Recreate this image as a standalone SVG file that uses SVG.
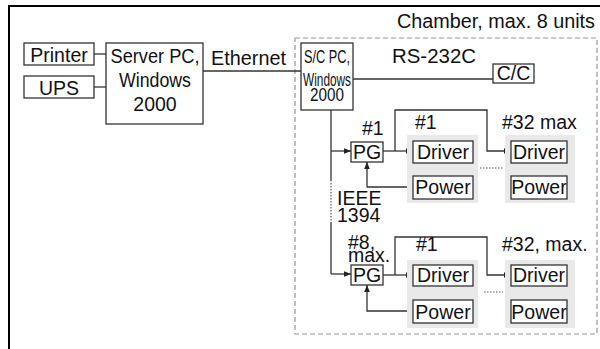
<svg xmlns="http://www.w3.org/2000/svg" width="600" height="349" viewBox="0 0 600 349">
  <defs>
    <marker id="arr" viewBox="0 0 8 8" refX="8" refY="4" markerWidth="7" markerHeight="7" markerUnits="userSpaceOnUse" orient="auto">
      <path d="M0,0.8 L8,4 L0,7.2 z" fill="#222"/>
    </marker>
    <style>
      text { font-family: "Liberation Sans", Arial, sans-serif; font-size: 19.5px; fill: #111; }
      .c { text-anchor: middle; }
      .sc { font-size: 19px; }
      .box { fill: #fff; stroke: #333; stroke-width: 1.3; }
      .shade { fill: #e9e9e9; stroke: none; }
      .ln { fill: none; stroke: #333; stroke-width: 1.3; }
      .ar { fill: none; stroke: #333; stroke-width: 1.3; marker-end: url(#arr); }
      .dot { fill: none; stroke: #555; stroke-width: 1.2; stroke-dasharray: 1.5 1.5; }
    </style>
  </defs>
  <rect width="600" height="349" fill="#fff"/>

  <!-- page frame -->
  <path d="M9,349 V6 H600" fill="none" stroke="#000" stroke-width="2"/>

  <!-- chamber enclosure -->
  <g id="chamber">
    <rect x="295" y="38" width="302" height="296" fill="none" stroke="#999" stroke-width="1.2" stroke-dasharray="5 3"/>
    <text x="595" y="28" text-anchor="end" textLength="198" lengthAdjust="spacingAndGlyphs">Chamber, max. 8 units</text>
  </g>

  <!-- connectors -->
  <g id="connectors">
    <path class="ln" d="M94,54 H106"/>
    <path class="ln" d="M94,87 H106"/>
    <path class="ln" d="M203,71 H301"/>
    <path class="ln" d="M353,79 H493"/>
    <!-- IEEE 1394 bus -->
    <path class="ln" d="M331,110 V180"/>
    <path class="dot" d="M331,180 V222"/>
    <path class="ln" d="M331,222 V274"/>
    <path class="ar" d="M331,151 H351"/>
    <path class="ar" d="M331,274 H351"/>
    <!-- unit #1 -->
    <path class="ar" d="M383,151 H413"/>
    <path class="ar" d="M395,151 V110 H487 V151 H511"/>
    <path class="ar" d="M413,187 H367 V162"/>
    <path class="ar" d="M441,176 V163"/>
    <path class="ar" d="M544,176 V163"/>
    <path class="dot" d="M480,168 H503"/>
    <!-- unit #8 -->
    <path class="ar" d="M383,275 H413"/>
    <path class="ar" d="M395,275 V237 H487 V275 H511"/>
    <path class="ar" d="M413,311 H367 V285"/>
    <path class="ar" d="M441,300 V286"/>
    <path class="ar" d="M544,300 V286"/>
    <path class="dot" d="M484,292 H503"/>
  </g>

  <g id="printer">
    <rect class="box" x="24" y="43" width="70" height="22"/>
    <text class="c" x="59" y="62">Printer</text>
  </g>
  <g id="ups">
    <rect class="box" x="24" y="76" width="70" height="22"/>
    <text class="c" x="59" y="95">UPS</text>
  </g>
  <g id="server-pc">
    <rect class="box" x="106" y="43" width="97" height="81"/>
    <text class="c" x="155" y="63" textLength="89" lengthAdjust="spacingAndGlyphs">Server PC,</text>
    <text class="c" x="155" y="87" textLength="72" lengthAdjust="spacingAndGlyphs">Windows</text>
    <text class="c" x="155" y="111">2000</text>
  </g>
  <text x="211" y="65" textLength="75" lengthAdjust="spacingAndGlyphs">Ethernet</text>

  <g id="sc-pc">
    <rect class="box" x="301" y="43" width="52" height="67"/>
    <text class="c sc" x="327" y="63" textLength="46" lengthAdjust="spacingAndGlyphs">S/C PC,</text>
    <text class="c sc" x="327" y="86" textLength="48" lengthAdjust="spacingAndGlyphs">Windows</text>
    <text class="c sc" x="327" y="101" textLength="34" lengthAdjust="spacingAndGlyphs">2000</text>
  </g>
  <text x="392" y="63" textLength="84" lengthAdjust="spacingAndGlyphs">RS-232C</text>
  <g id="cc">
    <rect class="box" x="493" y="64" width="41" height="19"/>
    <text class="c" x="513.5" y="80">C/C</text>
  </g>

  <text x="337" y="205">IEEE</text>
  <text x="337" y="222">1394</text>

  <!-- unit #1 -->
  <g id="pg1">
    <rect class="box" x="351" y="142" width="32" height="20"/>
    <text class="c" x="367" y="159">PG</text>
    <text x="362" y="135">#1</text>
  </g>
  <g id="drv1-1">
    <rect class="shade" x="407" y="135" width="71" height="68"/>
    <rect class="box" x="413" y="141" width="60" height="22"/>
    <text class="c" x="443" y="159">Driver</text>
    <rect class="box" x="413" y="176" width="60" height="23"/>
    <text class="c" x="443" y="194">Power</text>
    <text x="415" y="129">#1</text>
  </g>
  <g id="drv1-32">
    <rect class="shade" x="505" y="135" width="70" height="68"/>
    <rect class="box" x="511" y="141" width="56" height="22"/>
    <text class="c" x="539" y="159">Driver</text>
    <rect class="box" x="511" y="176" width="56" height="23"/>
    <text class="c" x="539" y="194">Power</text>
    <text x="502" y="129">#32 max</text>
  </g>

  <!-- unit #8 -->
  <g id="pg8">
    <rect class="box" x="351" y="265" width="32" height="20"/>
    <text class="c" x="367" y="282">PG</text>
    <text x="348" y="249">#8,</text>
    <text x="348" y="262">max.</text>
  </g>
  <g id="drv8-1">
    <rect class="shade" x="407" y="260" width="71" height="68"/>
    <rect class="box" x="413" y="265" width="60" height="21"/>
    <text class="c" x="443" y="282">Driver</text>
    <rect class="box" x="413" y="300" width="60" height="23"/>
    <text class="c" x="443" y="319">Power</text>
    <text x="416" y="251">#1</text>
  </g>
  <g id="drv8-32">
    <rect class="shade" x="505" y="260" width="70" height="68"/>
    <rect class="box" x="511" y="265" width="56" height="21"/>
    <text class="c" x="539" y="282">Driver</text>
    <rect class="box" x="511" y="300" width="56" height="23"/>
    <text class="c" x="539" y="319">Power</text>
    <text x="502" y="251">#32, max.</text>
  </g>
</svg>
